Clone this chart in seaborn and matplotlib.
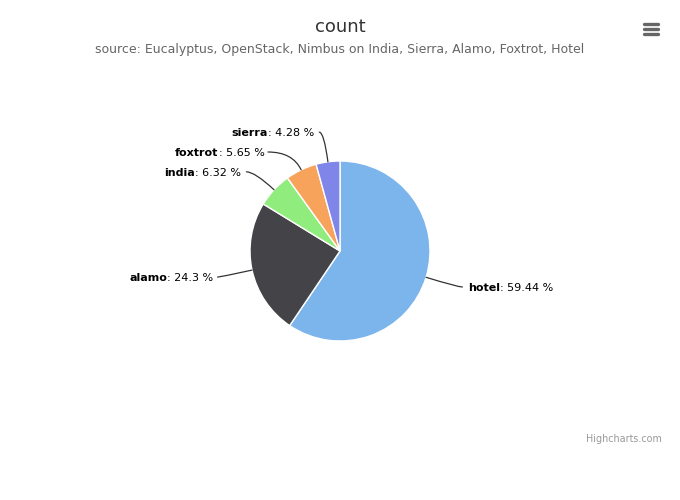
import numpy as np
import matplotlib
matplotlib.use("Agg")
import matplotlib.pyplot as plt
from matplotlib.lines import Line2D
import seaborn as sns

# data
names = ["hotel", "alamo", "india", "foxtrot", "sierra"]
shares = [59.44, 24.3, 6.32, 5.65, 4.28]
colors = ["#7cb5ec", "#434348", "#90ed7d", "#f7a35c", "#8085e9"]
value_labels = ["59.44 %", "24.3 %", "6.32 %", "5.65 %", "4.28 %"]

# label layout (pie radius units): text anchor and connector end
label_pos = [(1.42, -0.41), (-1.41, -0.30), (-1.10, 0.87), (-0.84, 1.09), (-0.29, 1.31)]
conn_end = [(1.36, -0.40), (-1.36, -0.29), (-1.04, 0.88), (-0.80, 1.10), (-0.23, 1.32)]

sns.set_theme(style="white")
plt.rcParams["font.family"] = ["DejaVu Sans"]

W, H = 680, 500
fig = plt.figure(figsize=(W / 100, H / 100), dpi=100)
cx, cy, r = 340, 251, 90
ax = fig.add_axes([(cx - r) / W, (H - cy - r) / H, 2 * r / W, 2 * r / H])

wedges, _ = ax.pie(shares, colors=colors, startangle=90, counterclock=False,
                   radius=1, wedgeprops=dict(edgecolor="white", linewidth=1))
ax.set_xlim(-1, 1)
ax.set_ylim(-1, 1)
ax.set_aspect("equal")
ax.axis("off")

fs = 8.0
for i, w in enumerate(wedges):
    mid = np.deg2rad((w.theta1 + w.theta2) / 2)
    edge = (np.cos(mid), np.sin(mid))
    ex, ey = conn_end[i]
    ang = np.rad2deg(mid)
    ax.annotate("", xy=edge, xytext=(ex, ey),
                arrowprops=dict(arrowstyle="-", color="#333333", lw=0.9,
                                shrinkA=0, shrinkB=0,
                                connectionstyle=f"angle3,angleA=0,angleB={ang:.1f}"),
                annotation_clip=False)
    tx, ty = label_pos[i]
    if tx > 0:
        t1 = ax.text(tx, ty, names[i], fontsize=fs, fontweight="bold", color="#000000",
                     ha="left", va="center", clip_on=False)
        ax.annotate(": " + value_labels[i], xy=(1, 0), xycoords=t1, fontsize=fs,
                    color="#000000", ha="left", va="bottom")
    else:
        t2 = ax.text(tx, ty, ": " + value_labels[i], fontsize=fs, color="#000000",
                     ha="right", va="center", clip_on=False)
        ax.annotate(names[i], xy=(0, 0), xycoords=t2, fontsize=fs, fontweight="bold",
                    color="#000000", ha="right", va="bottom")

fig.text(0.5, 1 - 27 / H, "count", fontsize=13, color="#333333", ha="center", va="center")
fig.text(0.5, 1 - 50 / H,
         "source: Eucalyptus, OpenStack, Nimbus on India, Sierra, Alamo, Foxtrot, Hotel",
         fontsize=9.0, color="#666666", ha="center", va="center")
fig.text(662 / W, 1 - 439 / H, "Highcharts.com", fontsize=6.9, color="#999999",
         ha="right", va="center")

# menu icon
for yy in (24, 29, 34):
    fig.add_artist(Line2D([644 / W, 658 / W], [1 - yy / H, 1 - yy / H],
                          color="#666666", lw=2.4, solid_capstyle="round"))

fig.savefig("out.png", dpi=100)
